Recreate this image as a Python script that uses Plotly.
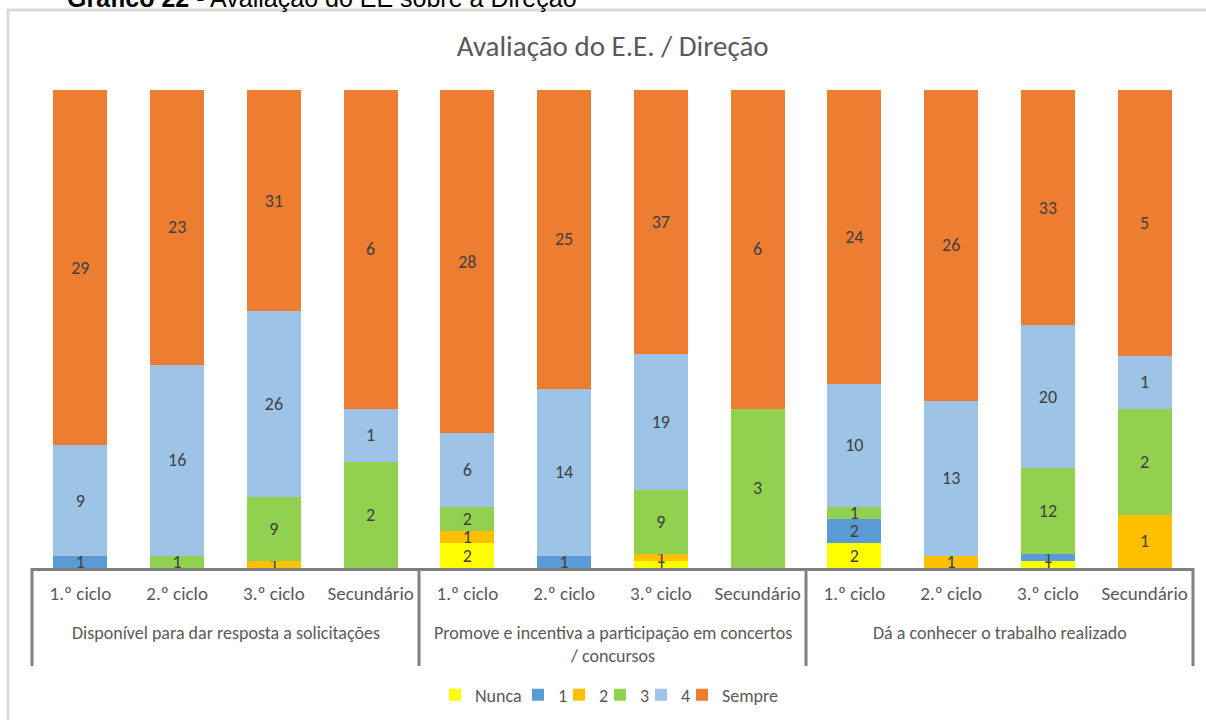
import plotly.graph_objects as go

# categorias
groups = ["Disponível para dar resposta a solicitações",
          "Promove e incentiva a participação em concertos<br>/ concursos",
          "Dá a conhecer o trabalho realizado"]
levels = ["1.º ciclo", "2.º ciclo", "3.º ciclo", "Secundário"]

cats = [f"{g}|{lv}" for g in range(len(groups)) for lv in levels]
inner = levels * len(groups)

# respostas por categoria (ordem: grupo 1 .. grupo 3, 1.º ciclo .. Secundário)
nunca  = [0, 0, 0, 0,   2, 0, 1, 0,   2, 0, 1, 0]
um     = [1, 0, 0, 0,   0, 1, 0, 0,   2, 0, 1, 0]
dois   = [0, 0, 1, 0,   1, 0, 1, 0,   0, 1, 0, 1]
tres   = [0, 1, 9, 2,   2, 0, 9, 3,   1, 0, 12, 2]
quatro = [9, 16, 26, 1, 6, 14, 19, 0, 10, 13, 20, 1]
sempre = [29, 23, 31, 6, 28, 25, 37, 6, 24, 26, 33, 5]

series = [("Nunca", nunca, "#FFFF00"),
          ("1", um, "#5B9BD5"),
          ("2", dois, "#FFC000"),
          ("3", tres, "#92D050"),
          ("4", quatro, "#9DC3E6"),
          ("Sempre", sempre, "#ED7D31")]

# posição (px) do símbolo de cada entrada da legenda
legend_px = [455, 538, 579, 620, 661, 702]

FONT = "Calibri, Carlito, Roboto, sans-serif"
GREY = "#595959"
AXIS = "#808080"

fig = go.Figure()
legends = {}
for k, (name, vals, col) in enumerate(series):
    lg = "legend" if k == 0 else f"legend{k + 1}"
    fig.add_trace(go.Bar(
        x=cats, y=vals, name=name, legend=lg,
        marker=dict(color=col, line=dict(width=0)),
        text=[str(v) if v else "" for v in vals],
        textposition="inside", insidetextanchor="middle", textangle=0,
        textfont=dict(color="#404040", size=18, family=FONT),
        constraintext="none", hoverinfo="y+name",
    ))
    legends[lg] = dict(orientation="h", xref="container", yref="container",
                       x=(legend_px[k] - 20) / 1206, xanchor="left",
                       y=1 - 695 / 720, yanchor="middle",
                       font=dict(size=18, color=GREY), itemwidth=30,
                       bgcolor="rgba(0,0,0,0)")

PH = 478  # altura da área do gráfico em px
fig.update_layout(
    barmode="stack", barnorm="percent", bargap=0.44,
    width=1206, height=720,
    margin=dict(l=32, r=13, t=90, b=152),
    paper_bgcolor="white", plot_bgcolor="white",
    font=dict(family=FONT, color=GREY, size=18),
    uniformtext=dict(minsize=18, mode="show"),
    title=dict(text="Avaliação do E.E. / Direção", x=0.508, xanchor="center",
               y=1 - 46 / 720, yanchor="middle", font=dict(size=29, color=GREY)),
    showlegend=True,
    **legends,
)
fig.update_xaxes(type="category", showline=True, linecolor=AXIS, linewidth=3,
                 ticks="", tickvals=cats, ticktext=inner, ticklabelstandoff=6,
                 automargin=False,
                 tickfont=dict(size=19, color=GREY, family=FONT))
fig.update_yaxes(visible=False, range=[0, 100])

# rótulos dos grupos e divisórias
n = len(groups)
for i, g in enumerate(groups):
    fig.add_annotation(xref="paper", yref="paper", x=(i + 0.5) / n,
                       y=-(620 - 568) / PH, xanchor="center", yanchor="top",
                       showarrow=False, text=g,
                       font=dict(size=18, color=GREY, family=FONT))
for i in range(n + 1):
    fig.add_shape(type="line", xref="paper", yref="paper",
                  x0=i / n, x1=i / n, y0=0, y1=-(666 - 568) / PH,
                  line=dict(color=AXIS, width=3))

# cabeçalho cortado no topo
fig.add_annotation(xref="paper", yref="paper", x=(65 - 32) / 1161, y=1 + 92 / PH,
                   xanchor="left", yanchor="middle", showarrow=False,
                   text="<b>Gráfico 22</b> - Avaliação do EE sobre a Direção",
                   font=dict(family="Liberation Sans, Arial", size=25, color="black"))
# moldura do gráfico
fig.add_shape(type="rect", xref="paper", yref="paper",
              x0=-24 / 1161, x1=1.03, y0=-0.4, y1=1 + 80 / PH,
              line=dict(color="#D9D9D9", width=3), layer="below")

fig.write_html("out.html", config={"displayModeBar": False},
               post_script="document.body.style.margin='0';")
